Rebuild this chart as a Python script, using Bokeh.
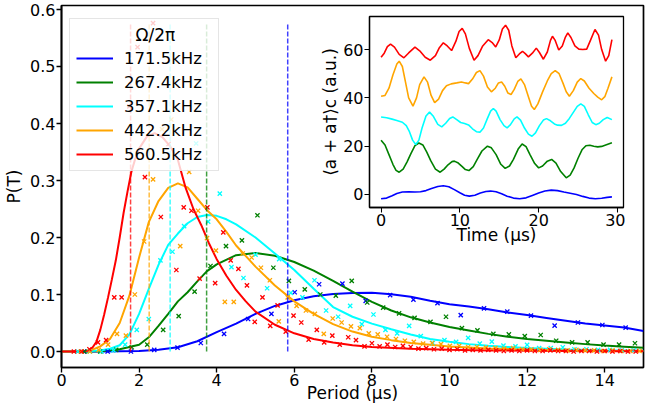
from bokeh.plotting import figure
from bokeh.models import Range1d, FixedTicker, PrintfTickFormatter, ColumnDataSource
from bokeh.embed import file_html
from bokeh.resources import INLINE

FONT = "DejaVu Sans"

# ---------------- data ----------------
freq_labels = ["171.5kHz", "267.4kHz", "357.1kHz", "442.2kHz", "560.5kHz"]
colors = ["#0000ff", "#008000", "#00ffff", "#ffa500", "#ff0000"]
vline_periods = [5.83, 3.74, 2.80, 2.26, 1.78]
vline_top = 0.577
legend_title = "Ω/2π"

x_ticks = [0, 2, 4, 6, 8, 10, 12, 14]
y_ticks = [0.0, 0.1, 0.2, 0.3, 0.4, 0.5, 0.6]

blue_fit_x = [0, 1, 1.5, 2, 2.5, 3, 3.5, 4, 4.5, 5, 5.5, 6, 6.5, 7, 7.5, 8, 8.5, 9, 9.5, 10,
              10.5, 11, 11.5, 12, 12.5, 13, 13.5, 14, 14.5, 15]
blue_fit_y = [0, 0, 0.0005, 0.001, 0.003, 0.0075, 0.018, 0.034, 0.049, 0.066, 0.080, 0.090, 0.097,
              0.101, 0.1025, 0.103, 0.1005, 0.096, 0.089, 0.083, 0.079, 0.074, 0.0685, 0.064, 0.059,
              0.054, 0.049, 0.0455, 0.042, 0.036]
green_fit_x = [0, 0.5, 1.0, 1.5, 2.0, 2.25, 2.5, 2.75, 3.0, 3.25, 3.5, 3.75, 4.0, 4.5, 5.0, 5.5, 6.0,
               6.5, 7.0, 7.5, 8.0, 8.5, 9.0, 9.5, 10, 10.5, 11, 11.5, 12, 12.5, 13, 13.5, 14, 14.5, 15]
green_fit_y = [0, 0, 0.0005, 0.004, 0.012, 0.025, 0.045, 0.066, 0.088, 0.104, 0.123, 0.141, 0.153,
               0.169, 0.173, 0.168, 0.157, 0.142, 0.124, 0.105, 0.087, 0.072, 0.060, 0.051, 0.043,
               0.037, 0.031, 0.026, 0.022, 0.019, 0.016, 0.013, 0.0105, 0.0085, 0.0065]
cyan_fit_x = [0, 0.5, 1.0, 1.25, 1.5, 1.75, 2.0, 2.25, 2.5, 2.75, 3.0, 3.25, 3.5, 3.75, 4.0, 4.25, 4.5,
              5.0, 5.5, 6.0, 6.5, 7.0, 7.5, 8.0, 8.5, 9.0, 9.5, 10, 10.5, 11, 11.5, 12, 13, 14, 15]
cyan_fit_y = [0, 0, 0.002, 0.005, 0.011, 0.030, 0.066, 0.110, 0.152, 0.187, 0.207, 0.225, 0.236,
              0.2395, 0.238, 0.232, 0.223, 0.200, 0.172, 0.143, 0.110, 0.078, 0.061, 0.049, 0.039,
              0.030, 0.022, 0.017, 0.013, 0.010, 0.008, 0.006, 0.0035, 0.0022, 0.0015]
orange_fit_x = [0, 0.5, 0.75, 1.0, 1.25, 1.5, 1.75, 2.0, 2.25, 2.5, 2.75, 3.0, 3.25, 3.5, 3.75, 4.0,
                4.25, 4.5, 5.0, 5.5, 6.0, 6.5, 7.0, 7.5, 8.0, 8.5, 9.0, 9.5, 10, 11, 12, 13, 14, 15]
orange_fit_y = [0, 0, 0.002, 0.009, 0.022, 0.050, 0.098, 0.165, 0.227, 0.264, 0.287, 0.295, 0.288,
                0.268, 0.248, 0.232, 0.210, 0.186, 0.149, 0.116, 0.088, 0.066, 0.048, 0.035, 0.026,
                0.020, 0.015, 0.012, 0.009, 0.0055, 0.0035, 0.002, 0.0013, 0.001]
red_fit_x = [0, 0.5, 0.6, 0.7, 0.8, 0.9, 1.0, 1.1, 1.2, 1.3, 1.4, 1.5, 1.6, 1.7, 1.8, 1.9, 2.0, 2.2,
             2.4, 2.6, 2.8, 3.0, 3.2, 3.4, 3.6, 3.8, 4.0, 4.25, 4.5, 4.75, 5.0, 5.5, 6.0, 6.5, 7.0,
             7.5, 8.0, 9.0, 10, 11, 12, 13, 14, 15]
red_fit_y = [0, 0, 0.0005, 0.002, 0.007, 0.017, 0.038, 0.065, 0.095, 0.127, 0.160, 0.200, 0.243,
             0.280, 0.315, 0.338, 0.356, 0.377, 0.383, 0.376, 0.360, 0.336, 0.287, 0.250, 0.222,
             0.190, 0.162, 0.133, 0.108, 0.088, 0.070, 0.047, 0.032, 0.022, 0.016, 0.011, 0.008,
             0.005, 0.003, 0.002, 0.0015, 0.001, 0.0007, 0.0005]

blue_pts_x = [0.58, 1.19, 1.79, 2.39, 2.99, 3.59, 4.19, 4.81, 5.41, 6.01, 6.64, 7.24, 7.84, 8.47,
              9.07, 9.69, 10.29, 10.89, 11.49, 12.10, 12.71, 13.31, 13.94, 14.54]
blue_pts_y = [0.0, 0.0, 0.0, 0.003, 0.007, 0.015, 0.031, 0.057, 0.066, 0.104, 0.118, 0.119, 0.089,
              0.099, 0.091, 0.085, 0.064, 0.0756, 0.070, 0.063, 0.0454, 0.051, 0.0466, 0.042]
green_pts_x = [0.59, 1.0, 1.41, 1.81, 2.21, 2.62, 3.02, 3.43, 3.84, 4.24, 4.65, 5.05, 5.46, 5.86,
               6.27, 6.67, 7.07, 7.48, 7.88, 8.29, 8.70, 9.10, 9.51, 9.91, 10.32, 10.72, 11.13,
               11.53, 11.94, 12.35, 12.75, 13.16, 13.56, 13.97, 14.37, 14.78]
green_pts_y = [0.0, 0.0, 0.003, 0.0075, 0.012, 0.038, 0.062, 0.105, 0.150, 0.185, 0.195, 0.239,
               0.147, 0.124, 0.109, 0.100, 0.098, 0.124, 0.086, 0.077, 0.067, 0.059, 0.052, 0.061,
               0.041, 0.037, 0.031, 0.030, 0.027, 0.029, 0.019, 0.016, 0.016, 0.012, 0.012, 0.0145]
cyan_pts_x = [0.42, 0.73, 1.03, 1.34, 1.64, 1.94, 2.25, 2.55, 2.86, 3.16, 3.47, 3.78, 4.08, 4.38,
              4.69, 5.00, 5.30, 5.61, 5.91, 6.21, 6.52, 6.82, 7.13, 7.44, 7.74, 8.04, 8.35, 8.65,
              8.96, 9.26, 9.57, 9.87, 10.17, 10.48, 10.78, 11.09, 11.39, 11.70, 12.00, 12.31,
              12.61, 12.92, 13.22, 13.53, 13.83, 14.14, 14.44, 14.75]
cyan_pts_y = [0.0, 0.0, 0.0, 0.002, 0.012, 0.038, 0.057, 0.160, 0.175, 0.220, 0.365, 0.228, 0.277,
              0.148, 0.129, 0.170, 0.111, 0.162, 0.103, 0.095, 0.125, 0.072, 0.061, 0.080, 0.048,
              0.065, 0.038, 0.032, 0.045, 0.027, 0.015, 0.020, 0.017, 0.024, 0.014, 0.0175, 0.0105,
              0.009, 0.0117, 0.006, 0.006, 0.0075, 0.004, 0.004, 0.003, 0.003, 0.002, 0.002]
orange_pts_x = [0.50, 0.73, 0.96, 1.20, 1.43, 1.66, 1.89, 2.13, 2.36, 2.59, 2.83, 3.06, 3.29, 3.52,
                3.75, 3.98, 4.21, 4.44, 4.67, 4.90, 5.14, 5.37, 5.60, 5.83, 6.06, 6.30, 6.53, 6.76,
                6.99, 7.22, 7.46, 7.69, 7.92, 8.15, 8.39, 8.62, 8.85, 9.08, 9.32, 9.55, 9.78,
                10.01, 10.25, 10.48, 10.71, 10.94, 11.18, 11.41, 11.64, 11.87, 12.11, 12.34,
                12.57, 12.80, 13.04, 13.27, 13.50, 13.73, 13.97, 14.20, 14.43, 14.66, 14.90]
orange_pts_y = [0.0, 0.0, 0.003, 0.012, 0.031, 0.028, 0.100, 0.193, 0.302, 0.390, 0.407, 0.185,
                0.315, 0.247, 0.199, 0.177, 0.087, 0.087, 0.172, 0.165, 0.147, 0.125, 0.053, 0.095,
                0.080, 0.072, 0.066, 0.031, 0.058, 0.051, 0.044, 0.041, 0.032, 0.030, 0.026, 0.022,
                0.019, 0.017, 0.014, 0.015, 0.013, 0.010, 0.010, 0.008, 0.008, 0.007, 0.006, 0.005,
                0.006, 0.004, 0.004, 0.003, 0.004, 0.003, 0.002, 0.003, 0.002, 0.002, 0.001, 0.002,
                0.001, 0.001, 0.001]
red_pts_x = [0.32, 0.52, 0.72, 0.94, 1.15, 1.36, 1.55, 1.75, 1.96, 2.15, 2.36, 2.56, 2.76, 2.96,
             3.15, 3.35, 3.56, 3.76, 3.96, 4.17, 4.36, 4.56, 4.78, 4.98, 5.18, 5.38, 5.57, 5.78,
             5.98, 6.18, 6.37, 6.58, 6.77, 6.98, 7.17, 7.39, 7.59, 7.81, 8.00, 8.20, 8.40, 8.60,
             8.80, 9.00, 9.20, 9.40, 9.60, 9.80, 10.0, 10.2, 10.4, 10.6, 10.8, 11.0, 11.2, 11.4,
             11.6, 11.8, 12.0, 12.2, 12.4, 12.6, 12.8, 13.0, 13.2, 13.4, 13.6, 13.8, 14.0, 14.2,
             14.4, 14.6, 14.8]
red_pts_y = [0.0, 0.0, 0.004, 0.016, 0.020, 0.095, 0.095, 0.430, 0.534, 0.306, 0.576, 0.236, 0.364,
             0.143, 0.253, 0.247, 0.128, 0.253, 0.120, 0.209, 0.160, 0.145, 0.116, 0.052, 0.095,
             0.045, 0.081, 0.035, 0.063, 0.051, 0.021, 0.038, 0.016, 0.028, 0.012, 0.025, 0.020,
             0.009, 0.0145, 0.009, 0.012, 0.008, 0.010, 0.008, 0.005, 0.006, 0.004, 0.005, 0.003,
             0.004, 0.002, 0.003, 0.002, 0.003, 0.002, 0.001, 0.002, 0.001, 0.002, 0.001, 0.001,
             0.002, 0.001, 0.001, 0.0, 0.001, 0.001, 0.0, 0.001, 0.0, 0.001, 0.0, 0.0]

inset_x_ticks = [0, 10, 20, 30]
inset_y_ticks = [0, 20, 40, 60]

red_tr_t = [0.0, 0.4, 0.8, 1.2, 1.7, 2.3, 2.9, 3.5, 4.3, 4.9, 5.6, 6.25, 6.9, 7.4, 7.9, 8.4, 8.95,
            9.5, 9.9, 10.3, 10.7, 11.2, 11.8, 12.3, 12.9, 13.6, 14.1, 14.55, 15.0, 15.4, 15.8, 16.2,
            16.6, 17.1, 17.55, 17.95, 18.3, 18.7, 19.2, 19.7, 20.1, 20.6, 21.1, 21.5, 21.75, 22.1,
            22.55, 23.0, 23.4, 23.7, 24.1, 24.6, 25.1, 25.6, 26.1, 26.6, 27.15, 27.6, 28.0, 28.5,
            28.9, 29.3]
red_tr_v = [56.8, 58.5, 61.2, 62.3, 61.0, 58.0, 56.6, 58.6, 61.0, 59.5, 56.8, 55.6, 57.5, 60.8, 62.8,
            61.5, 59.6, 63.5, 67.5, 68.8, 66.5, 60.5, 55.6, 57.5, 61.5, 64.1, 62.9, 61.1, 64.0, 68.5,
            70.1, 68.0, 61.5, 56.6, 58.2, 59.3, 58.3, 57.0, 58.5, 60.6, 58.8, 56.0, 59.0, 63.8, 65.5,
            63.8, 59.8, 61.5, 65.2, 66.9, 65.0, 61.5, 60.2, 60.0, 60.2, 64.0, 68.3, 66.0, 60.0, 55.2,
            57.5, 64.1]
orange_tr_t = [0.0, 0.5, 1.0, 1.5, 2.0, 2.3, 2.7, 3.1, 3.5, 4.05, 4.5, 4.9, 5.45, 5.9, 6.35, 6.8,
               7.3, 7.8, 8.3, 8.9, 9.6, 10.2, 10.7, 11.1, 11.6, 12.1, 12.55, 13.0, 13.5, 14.0, 14.5,
               14.9, 15.3, 15.7, 16.1, 16.5, 16.9, 17.35, 17.75, 18.2, 18.7, 19.1, 19.45, 19.9,
               20.5, 21.1, 21.6, 22.1, 22.6, 23.1, 23.5, 23.9, 24.4, 24.9, 25.35, 25.8, 26.4, 27.0,
               27.5, 28.0, 28.4, 28.8, 29.3]
orange_tr_v = [40.7, 41.0, 44.0, 49.5, 54.0, 55.2, 53.0, 46.5, 40.0, 36.6, 40.0, 45.5, 48.7, 46.5,
               41.0, 38.0, 39.5, 43.0, 45.0, 45.8, 46.2, 46.6, 46.2, 45.9, 47.8, 50.5, 51.3, 49.0,
               44.5, 42.5, 44.0, 46.2, 46.6, 44.8, 42.0, 41.4, 43.5, 46.8, 47.9, 45.5, 40.5, 36.5,
               35.2, 37.5, 42.5, 47.0, 50.0, 51.3, 50.0, 46.0, 42.5, 40.7, 43.0, 46.5, 48.0, 47.0,
               44.0, 41.8, 40.3, 39.2, 40.5, 44.0, 48.7]
cyan_tr_t = [0.0, 0.7, 1.4, 2.0, 2.7, 3.2, 3.6, 4.0, 4.4, 4.8, 5.2, 5.7, 6.15, 6.6, 7.2, 7.7, 8.2,
             8.7, 9.1, 9.6, 10.1, 10.6, 11.1, 11.6, 12.1, 12.55, 13.0, 13.5, 13.9, 14.25, 14.6,
             15.1, 15.6, 16.0, 16.4, 16.9, 17.25, 17.7, 18.2, 18.7, 19.15, 19.6, 20.1, 20.6, 21.0,
             21.5, 22.0, 22.4, 22.9, 23.4, 23.9, 24.4, 24.9, 25.35, 25.8, 26.3, 26.8, 27.25, 27.7,
             28.2, 28.7, 29.3]
cyan_tr_v = [32.1, 31.8, 31.2, 30.6, 29.9, 28.5, 26.0, 22.5, 20.7, 22.5, 27.5, 32.5, 34.1, 32.5,
             29.0, 28.0, 29.5, 31.5, 32.1, 31.0, 29.8, 29.4, 28.8, 27.2, 26.0, 25.8, 27.5, 31.5,
             34.5, 35.6, 34.5, 31.0, 28.5, 27.6, 28.8, 31.3, 32.1, 30.8, 27.5, 25.0, 24.1, 25.5,
             28.5, 30.8, 31.4, 30.5, 29.2, 28.7, 28.6, 29.5, 31.5, 34.0, 36.5, 37.5, 36.5, 33.0,
             29.8, 28.9, 29.5, 31.0, 31.9, 31.0]
green_tr_t = [0.0, 0.5, 1.0, 1.5, 1.9, 2.3, 2.8, 3.3, 3.8, 4.3, 4.8, 5.3, 5.8, 6.3, 6.9, 7.5, 8.0,
              8.5, 9.0, 9.3, 9.8, 10.3, 10.7, 11.15, 11.7, 12.2, 12.8, 13.5, 14.0, 14.6, 15.2,
              15.75, 16.3, 16.8, 17.4, 17.9, 18.4, 18.9, 19.5, 20.0, 20.5, 21.1, 21.65, 22.2, 22.8,
              23.5, 24.0, 24.5, 25.0, 25.5, 26.0, 26.5, 27.0, 27.5, 28.0, 28.6, 29.3]
green_tr_v = [22.5, 20.5, 16.5, 12.5, 10.0, 9.2, 10.5, 13.5, 17.0, 20.2, 21.3, 20.5, 17.5, 14.0,
              10.5, 9.2, 10.5, 12.3, 13.6, 13.8, 13.0, 11.5, 10.3, 9.9, 11.5, 14.5, 18.0, 20.0, 19.3,
              16.5, 12.5, 10.8, 11.8, 14.5, 18.8, 20.9, 19.8, 16.5, 12.8, 11.0, 11.8, 13.8, 14.5,
              13.0, 9.5, 6.9, 8.0, 11.0, 15.0, 18.5, 20.2, 20.4, 20.0, 19.7, 19.9, 20.6, 21.4]
blue_tr_t = [0.0, 0.7, 1.4, 2.0, 2.7, 3.5, 4.3, 5.0, 5.7, 6.4, 7.2, 7.9, 8.6, 9.3, 10.0, 10.6, 11.2,
             11.9, 12.6, 13.3, 13.9, 14.6, 15.3, 16.0, 16.8, 17.6, 18.4, 19.2, 20.0, 20.8, 21.6,
             22.4, 23.2, 24.0, 24.8, 25.6, 26.4, 27.2, 28.0, 28.7, 29.3]
blue_tr_v = [-1.8, -1.5, -0.5, 0.4, 1.0, 1.1, 1.0, 1.1, 1.6, 2.5, 3.3, 3.6, 3.2, 2.0, 0.7, -0.3, -0.7,
             -0.3, 0.6, 1.2, 1.4, 1.1, 0.3, -0.7, -1.5, -1.8, -1.4, -0.4, 0.6, 1.4, 1.8, 1.6, 1.0,
             0.5, 0.0, -0.8, -1.5, -1.8, -1.6, -1.2, -1.0]

fits = [(blue_fit_x, blue_fit_y), (green_fit_x, green_fit_y), (cyan_fit_x, cyan_fit_y),
        (orange_fit_x, orange_fit_y), (red_fit_x, red_fit_y)]
pts = [(blue_pts_x, blue_pts_y), (green_pts_x, green_pts_y), (cyan_pts_x, cyan_pts_y),
       (orange_pts_x, orange_pts_y), (red_pts_x, red_pts_y)]
traces = [(blue_tr_t, blue_tr_v), (green_tr_t, green_tr_v), (cyan_tr_t, cyan_tr_v),
          (orange_tr_t, orange_tr_v), (red_tr_t, red_tr_v)]


def style_axes(fig, tick_size, label_size, spine_w):
    fig.xgrid.visible = False
    fig.ygrid.visible = False
    fig.outline_line_color = "black"
    fig.outline_line_width = spine_w
    fig.outline_line_alpha = 1.0
    for ax in (fig.xaxis[0], fig.yaxis[0]):
        ax.axis_line_width = spine_w
        ax.major_tick_line_width = spine_w * 0.8
        ax.major_tick_out = 5
        ax.major_tick_in = 0
        ax.minor_tick_line_color = None
        ax.major_label_text_font = FONT
        ax.major_label_text_font_size = tick_size
        ax.major_label_text_color = "black"
        ax.axis_label_text_font = FONT
        ax.axis_label_text_font_size = label_size
        ax.axis_label_text_font_style = "normal"
        ax.axis_label_text_color = "black"
        ax.major_label_standoff = 1


# ---------------- main plot ----------------
p = figure(width=645, height=406, x_range=Range1d(0, 15), y_range=Range1d(-0.028, 0.607),
           output_backend="svg", toolbar_location=None,
           min_border_left=61, min_border_right=2, min_border_top=5, min_border_bottom=39)
p.background_fill_color = "white"
p.border_fill_color = "white"
style_axes(p, "16px", "17px", 1.7)
p.xaxis.ticker = FixedTicker(ticks=x_ticks)
p.yaxis.ticker = FixedTicker(ticks=y_ticks)
p.yaxis.formatter = PrintfTickFormatter(format="%.1f")
p.xaxis.axis_label = "Period (μs)"
p.yaxis.axis_label = "P(T)"
p.xaxis.axis_label_standoff = -6
p.yaxis.axis_label_standoff = 3

for (fx, fy), c, lab in zip(fits, colors, freq_labels):
    p.line(fx, fy, line_color=c, line_width=2.0, legend_label=lab)

for (sx, sy), c in zip(pts, colors):
    p.scatter(sx, sy, marker="x", size=6, line_color=c, line_width=1.3)

vsrc = ColumnDataSource(dict(x=vline_periods, y0=[0.0] * len(vline_periods),
                             y1=[vline_top] * len(vline_periods), color=colors))
p.segment(x0="x", y0="y0", x1="x", y1="y1", source=vsrc, line_color="color",
          line_width=1.5, line_dash="5 2", line_alpha=0.75)

leg = p.legend[0]
leg.location = (8, 196)
leg.title = "\u00a0" * 11 + legend_title
leg.title_text_font = FONT
leg.title_text_font_size = "17px"
leg.title_text_font_style = "normal"
leg.title_text_color = "black"
leg.title_standoff = 3
leg.label_text_font = FONT
leg.label_text_font_size = "16.5px"
leg.label_text_color = "black"
leg.glyph_width = 37
leg.glyph_height = 20
leg.label_height = 20
leg.label_width = 88
leg.spacing = 4
leg.padding = 6
leg.label_standoff = 11
leg.background_fill_color = "white"
leg.background_fill_alpha = 0.8
leg.border_line_color = "#cccccc"
leg.border_line_width = 1

# ---------------- inset ----------------
inset = figure(width=308, height=233, x_range=Range1d(-1.47, 30.77), y_range=Range1d(-5.4, 73.7),
               output_backend="svg", toolbar_location=None,
               min_border_left=47, min_border_right=2, min_border_top=2, min_border_bottom=40,
               styles={"position": "absolute", "left": "317px", "top": "14px", "z-index": "10"})
inset.background_fill_color = "white"
inset.border_fill_alpha = 0.0
style_axes(inset, "16px", "17px", 1.3)
inset.xaxis.ticker = FixedTicker(ticks=inset_x_ticks)
inset.yaxis.ticker = FixedTicker(ticks=inset_y_ticks)
inset.xaxis.axis_label = "Time (μs)"
inset.yaxis.axis_label = "⟨a + a†⟩c (a.u.)"
inset.xaxis.axis_label_standoff = -4
inset.yaxis.axis_label_standoff = 0

for (tt, vv), c in zip(traces, colors):
    inset.line(tt, vv, line_color=c, line_width=1.6)

with open("out.html", "w") as f:
    f.write(file_html([p, inset], INLINE))
